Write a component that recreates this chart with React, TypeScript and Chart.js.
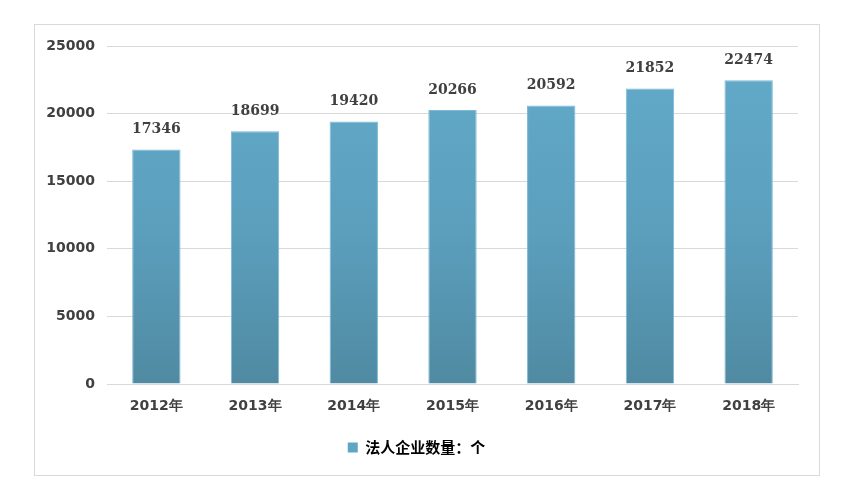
import React, { useEffect, useRef } from "react";
import { Chart, registerables } from "chart.js";

Chart.register(...registerables);

const categories = ["2012年", "2013年", "2014年", "2015年", "2016年", "2017年", "2018年"];
const values = [17346, 18699, 19420, 20266, 20592, 21852, 22474];
const seriesName = "法人企业数量：个";
const yTicks = [0, 5000, 10000, 15000, 20000, 25000];

const labelPlugin = {
  id: "valueLabels",
  afterDatasetsDraw(chart: any) {
    const ctx = chart.ctx;
    const meta = chart.getDatasetMeta(0);
    ctx.save();
    ctx.font = "bold 14px 'DejaVu Serif'";
    ctx.fillStyle = "#404040";
    ctx.textAlign = "center";
    ctx.textBaseline = "bottom";
    meta.data.forEach((bar: any, i: number) => {
      ctx.fillText(String(values[i]), bar.x, bar.y - 13);
    });
    ctx.restore();
  },
};

export default function App() {
  const ref = useRef<HTMLCanvasElement | null>(null);
  useEffect(() => {
    const canvas = ref.current!;
    const chart = new Chart(canvas, {
      type: "bar",
      data: {
        labels: categories,
        datasets: [
          {
            label: seriesName,
            data: values,
            backgroundColor: (c: any) => {
              const area = c.chart.chartArea;
              if (!area) return "#5fa6c5";
              const g = c.chart.ctx.createLinearGradient(0, area.top, 0, area.bottom);
              g.addColorStop(0, "#63aaca");
              g.addColorStop(0.55, "#5b9fbd");
              g.addColorStop(1, "#508aa2");
              return g;
            },
            borderColor: "#7dbad6",
            borderWidth: 1,
            categoryPercentage: 1,
            barPercentage: 0.49,
          },
        ],
      },
      options: {
        animation: false,
        responsive: false,
        maintainAspectRatio: false,
        layout: { padding: { top: 21, right: 21, left: 0, bottom: 10 } },
        plugins: {
          tooltip: { enabled: false },
          legend: {
            position: "bottom",
            labels: {
              boxWidth: 10,
              boxHeight: 10,
              color: "#595959",
              font: { family: "'Noto Sans CJK SC'", size: 15, weight: "bold" },
              padding: 10,
              generateLabels: () => [
                {
                  text: seriesName,
                  fillStyle: "#5fa6c5",
                  strokeStyle: "#5fa6c5",
                  lineWidth: 0,
                  datasetIndex: 0,
                } as any,
              ],
            },
          },
        },
        scales: {
          x: {
            grid: { display: false },
            border: { display: true, color: "#d9d9d9" },
            ticks: {
              color: "#404040",
              font: { family: "'DejaVu Sans'", size: 14, weight: "bold" },
              padding: 6,
              maxRotation: 0,
            },
            afterFit: (s: any) => {
              s.height = 46;
            },
          },
          y: {
            min: 0,
            max: 25000,
            afterBuildTicks: (s: any) => {
              s.ticks = yTicks.map((v) => ({ value: v }));
            },
            grid: { color: "#d9d9d9", tickLength: 0 },
            border: { display: false },
            ticks: {
              color: "#404040",
              font: { family: "'DejaVu Sans'", size: 14, weight: "bold" },
              padding: 12,
              callback: (v: any) => String(v),
            },
            afterFit: (s: any) => {
              s.width = 72;
            },
          },
        },
      },
      plugins: [labelPlugin],
    } as any);
    return () => chart.destroy();
  }, []);
  return (
    <div style={{ position: "fixed", left: 0, top: 0, width: 866, height: 501, background: "#fff" }}>
      <div
        style={{
          position: "absolute",
          left: 34,
          top: 24,
          width: 784,
          height: 450,
          border: "1px solid #d9d9d9",
        }}
      >
        <canvas ref={ref} width={784} height={450} style={{ display: "block" }} />
      </div>
    </div>
  );
}
